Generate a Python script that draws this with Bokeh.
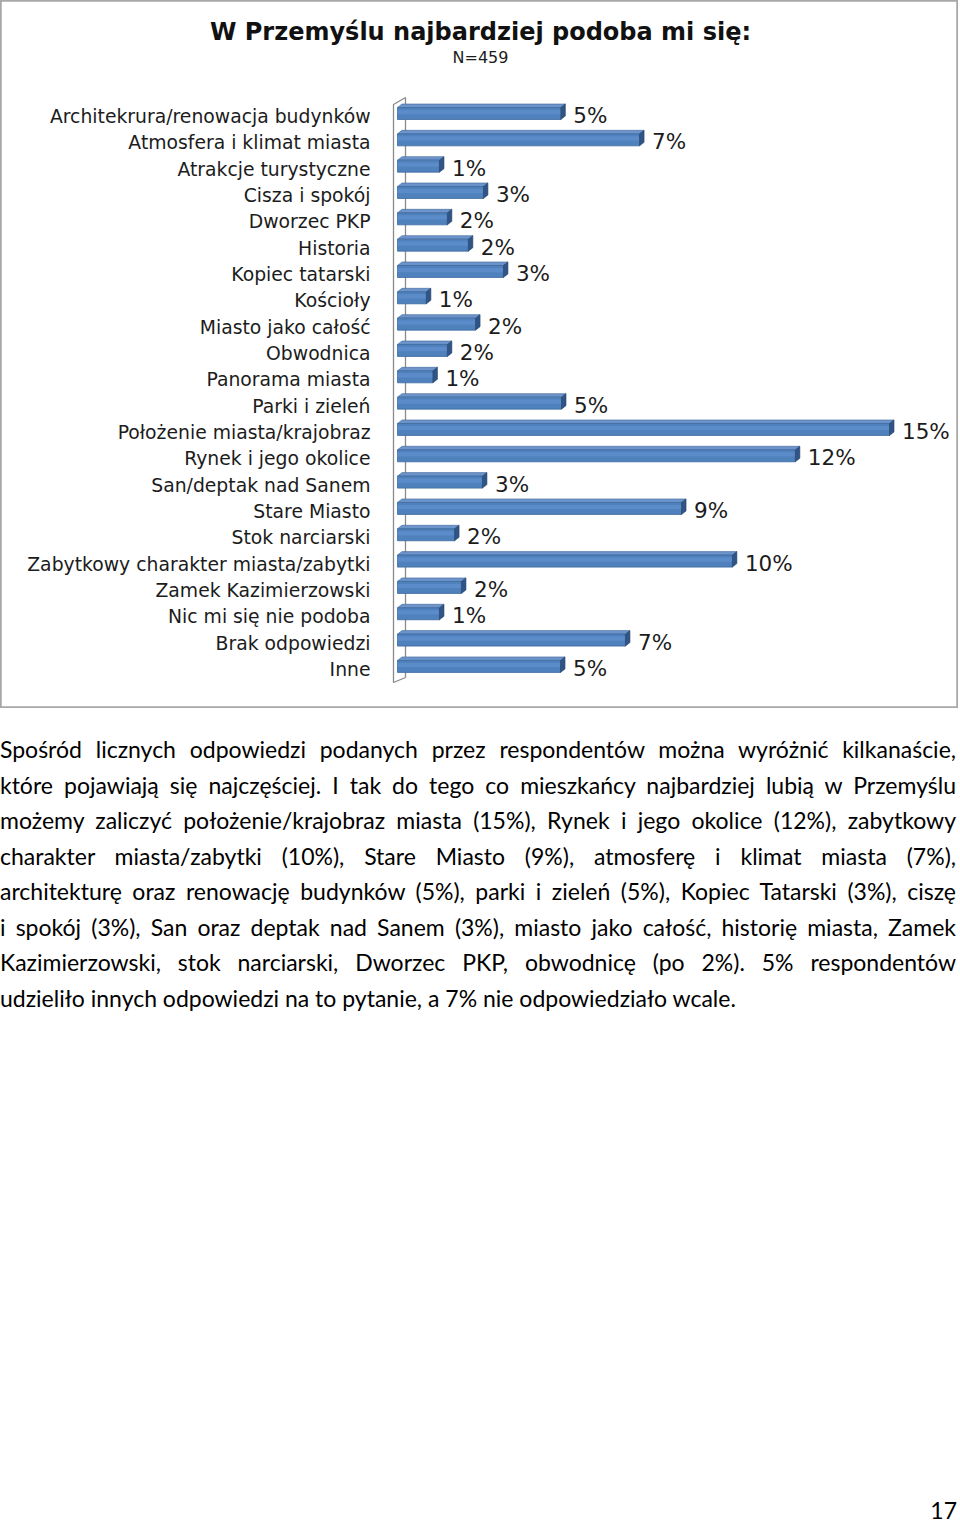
from bokeh.plotting import figure
from bokeh.models import Range1d, ColumnDataSource, Div
from bokeh.layouts import column
from bokeh.embed import file_html
from bokeh.resources import INLINE
from bokeh.core.properties import value

# ---------------- data ----------------
title_text = "W Przemyślu najbardziej podoba mi się:"
subtitle_text = "N=459"

categories = [
    "Architekrura/renowacja budynków",
    "Atmosfera i klimat miasta",
    "Atrakcje turystyczne",
    "Cisza i spokój",
    "Dworzec PKP",
    "Historia",
    "Kopiec tatarski",
    "Kościoły",
    "Miasto jako całość",
    "Obwodnica",
    "Panorama miasta",
    "Parki i zieleń",
    "Położenie miasta/krajobraz",
    "Rynek i jego okolice",
    "San/deptak nad Sanem",
    "Stare Miasto",
    "Stok narciarski",
    "Zabytkowy charakter miasta/zabytki",
    "Zamek Kazimierzowski",
    "Nic mi się nie podoba",
    "Brak odpowiedzi",
    "Inne",
]

values = [4.98, 7.38, 1.28, 2.62, 1.52, 2.16, 3.23, 0.88, 2.38, 1.52, 1.08,
          5.0, 15.0, 12.13, 2.59, 8.66, 1.74, 10.21, 1.95, 1.28, 6.95, 4.97]

value_labels = ["5%", "7%", "1%", "3%", "2%", "2%", "3%", "1%", "2%", "2%", "1%",
                "5%", "15%", "12%", "3%", "9%", "2%", "10%", "2%", "1%", "7%", "5%"]

paragraph_lines = [
    "Spośród licznych odpowiedzi podanych przez respondentów można wyróżnić kilkanaście,",
    "które pojawiają się najczęściej. I tak do tego co mieszkańcy najbardziej lubią w Przemyślu",
    "możemy zaliczyć położenie/krajobraz miasta (15%), Rynek i jego okolice (12%), zabytkowy",
    "charakter miasta/zabytki (10%), Stare Miasto (9%), atmosferę i klimat miasta (7%),",
    "architekturę oraz renowację budynków (5%), parki i zieleń (5%), Kopiec Tatarski (3%), ciszę",
    "i spokój (3%), San oraz deptak nad Sanem (3%), miasto jako całość, historię miasta, Zamek",
    "Kazimierzowski, stok narciarski, Dworzec PKP, obwodnicę (po 2%). 5% respondentów",
    "udzieliło innych odpowiedzi na to pytanie, a 7% nie odpowiedziało wcale.",
]
page_number = "17"

# ---------------- layout constants (screen px inside the chart box) ----------------
W, H = 958, 708
X0 = 397.0        # screen x of value 0
PX = 32.8         # px per percent
ROW0 = 113.0      # screen y of the first row centre
STEP = 26.33      # px per row

def dx(px):
    return px / PX

def dy(px):
    return px / STEP

def sx(screen_x):
    return (screen_x - X0) / PX

def sy(screen_y):
    return (screen_y - ROW0) / STEP

n = len(categories)
rows = list(range(n))

p = figure(width=W, height=H,
           x_range=Range1d(sx(0), sx(W)),
           y_range=Range1d(sy(H), sy(0)),
           x_axis_type=None, y_axis_type=None,
           output_backend="svg", toolbar_location=None, min_border=0)
p.grid.visible = False
p.outline_line_color = "#a8a8a8"
p.outline_line_width = 2.5
p.background_fill_color = "white"
p.border_fill_color = "white"

FONT = value("DejaVu Sans")
TXT = "#1c1c1c"
WALL = "#8a8a8a"

# ---- 3D wall (back edge, behind the bars) ----
p.line(x=[sx(405), sx(405)], y=[sy(97), sy(677)], line_color=WALL, line_width=1.3)

# ---- bars ----
h = dy(12)
ddx = dx(4.5)
ddy = dy(3.5)

src = ColumnDataSource(dict(y=rows, right=values, cat=categories, lab=value_labels))

top_xs, top_ys, cap_xs, cap_ys = [], [], [], []
for r, v in zip(rows, values):
    t = r - h / 2
    b = r + h / 2
    top_xs.append([0, v, v + ddx, ddx])
    top_ys.append([t, t, t - ddy, t - ddy])
    cap_xs.append([v, v + ddx, v + ddx, v])
    cap_ys.append([t, t - ddy, b - ddy, b])

p.patches(xs=top_xs, ys=top_ys, fill_color="#6d95cc", line_color="#3d6698", line_width=0.6)
p.hbar(y="y", left=0, right="right", height=h, source=src,
       fill_color="#4f81bd", line_color="#3d6a9f", line_width=0.8)
# lighter band on the front face
p.hbar(y=[r - h * 0.12 for r in rows], left=0, right=values, height=h * 0.35,
       fill_color="#5b8cc9", line_color=None)
p.patches(xs=cap_xs, ys=cap_ys, fill_color="#2f5485", line_color="#27476f", line_width=0.6)

# ---- 3D wall (front edge) ----
p.line(x=[sx(405), sx(393), sx(393), sx(405)],
       y=[sy(97), sy(104), sy(682), sy(677)],
       line_color=WALL, line_width=1.3)

# ---- category labels ----
p.text(x=sx(370), y=[r + dy(3) for r in rows], text=categories,
       text_align="right", text_baseline="middle",
       text_font=FONT, text_font_size="18.8px", text_color=TXT)

# ---- value labels ----
p.text(x=[v + ddx + dx(8) for v in values], y=[r + dy(2) for r in rows],
       text=value_labels, text_align="left", text_baseline="middle",
       text_font=FONT, text_font_size="21.5px", text_color=TXT)

# ---- title and subtitle ----
p.text(x=[sx(480)], y=[sy(31)], text=[title_text], text_align="center",
       text_baseline="alphabetic", text_font=FONT, text_font_size="24px",
       text_font_style="bold", text_color="#111111")
p.text(x=[sx(480)], y=[sy(56.5)], text=[subtitle_text], text_align="center",
       text_baseline="alphabetic", text_font=FONT, text_font_size="16px",
       text_color=TXT)

# ---------------- paragraph ----------------
line_divs = []
for i, ln in enumerate(paragraph_lines):
    if i < len(paragraph_lines) - 1:
        st = "text-align:justify;text-align-last:justify;"
    else:
        st = "text-align:left;"
    line_divs.append('<div style="%s white-space:normal;">%s</div>' % (st, ln))

para_html = ('<div style="width:956px;font-family:Lato,\'Open Sans\',sans-serif;'
             'font-size:23px;line-height:35.5px;color:#000;padding-top:24px;">'
             + "".join(line_divs) + '</div>')
para = Div(text=para_html, width=958, height=320, margin=(0, 0, 0, 0))

num_html = ('<div style="width:957px;font-family:Lato,sans-serif;font-size:23px;'
            'line-height:23px;color:#000;text-align:right;padding-top:471px;">'
            + page_number + '</div>')
num = Div(text=num_html, width=958, height=495, margin=(0, 0, 0, 0))

layout = column(p, para, num, spacing=0)

open("out.html", "w").write(file_html(layout, INLINE))
